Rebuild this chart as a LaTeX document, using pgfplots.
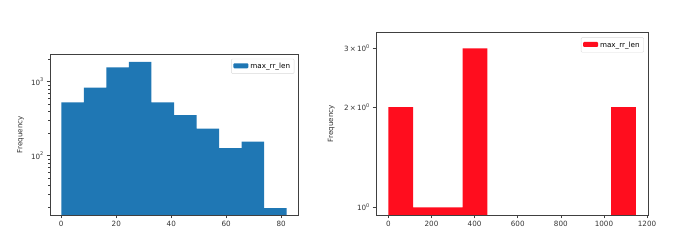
\documentclass[border=0pt]{standalone}
\usepackage{fontspec}
\setmainfont{DejaVu Sans}
\usepackage{pgfplots}
\pgfplotsset{compat=1.18}
\definecolor{mplblue}{HTML}{1F77B4}
\definecolor{mplred}{HTML}{FF0D1E}
\begin{document}
\fontsize{7.2}{8.5}\selectfont
\begin{tikzpicture}
\path[use as bounding box] (0pt,0pt) rectangle (680pt,240pt);
\pgfplotsset{
  every axis/.append style={
    scale only axis,
    axis line style={black!75, line width=0.6pt},
    tick style={black!75, line width=0.5pt},
    tick align=outside,
    xtick pos=bottom, ytick pos=left,
    major tick length=3.5pt, minor tick length=2pt,
    tick label style={font=\fontsize{7.2}{8.5}\selectfont, text=black!80},
    label style={font=\fontsize{7.2}{8.5}\selectfont, text=black!80},
    /pgf/number format/assume math mode=true,
    /pgf/number format/1000 sep={},
    log origin=infty,
    legend style={font=\fontsize{7.2}{8.5}\selectfont, draw=black!15, rounded corners=1pt, inner sep=2pt},
    legend cell align=left,
    legend image code/.code={\fill[#1] (0pt,-2pt) rectangle (15pt,3pt);},
  }
}
\begin{axis}[
  at={(50pt,25pt)}, anchor=south west,
  width=248pt, height=161pt,
  ymode=log, log basis y=10,
  xmin=-4.1, xmax=86.1,
  ymin=15.8, ymax=2366,
  xtick={0,20,40,60,80},
  ytick={100,1000},
  yticklabels={10\textsuperscript{2},10\textsuperscript{3}},
  minor ytick={20,30,40,50,60,70,80,90,200,300,400,500,600,700,800,900,2000},
  ylabel={Frequency},
  ylabel style={at={(axis description cs:-0.095,0.5)}, anchor=south},
  legend style={at={(0.985,0.97)}, anchor=north east},
]
\addplot[fill=mplblue, draw=none, ybar interval, forget plot] coordinates {
 (0,526) (8.2,830) (16.4,1565) (24.6,1845) (32.8,526) (41,352) (49.2,232) (57.4,127) (65.6,155) (73.8,19.5) (82,19.5)};
\addlegendimage{fill=mplblue, draw=none}
\addlegendentry{max\_rr\_len}
\end{axis}
\begin{axis}[
  at={(376pt,25pt)}, anchor=south west,
  width=272pt, height=183pt,
  ymode=log, log basis y=10,
  xmin=-57.35, xmax=1204.35,
  ymin=0.948, ymax=3.36,
  xtick={0,200,400,600,800,1000,1200},
  ytick={1,2,3},
  yticklabels={10\textsuperscript{0},2\,×\,10\textsuperscript{0},3\,×\,10\textsuperscript{0}},
  minor ytick={},
  ylabel={Frequency},
  ylabel style={at={(axis description cs:-0.143,0.5)}, anchor=south},
  legend style={at={(0.985,0.97)}, anchor=north east},
]
\addplot[fill=mplred, draw=none, ybar interval, forget plot] coordinates {
 (0,2) (114.7,1) (229.4,1) (344.1,3) (458.8,3)};
\addplot[fill=mplred, draw=none, ybar interval, forget plot] coordinates {
 (1032.3,2) (1147,2)};
\addlegendimage{fill=mplred, draw=none}
\addlegendentry{max\_rr\_len}
\end{axis}
\end{tikzpicture}
\end{document}
